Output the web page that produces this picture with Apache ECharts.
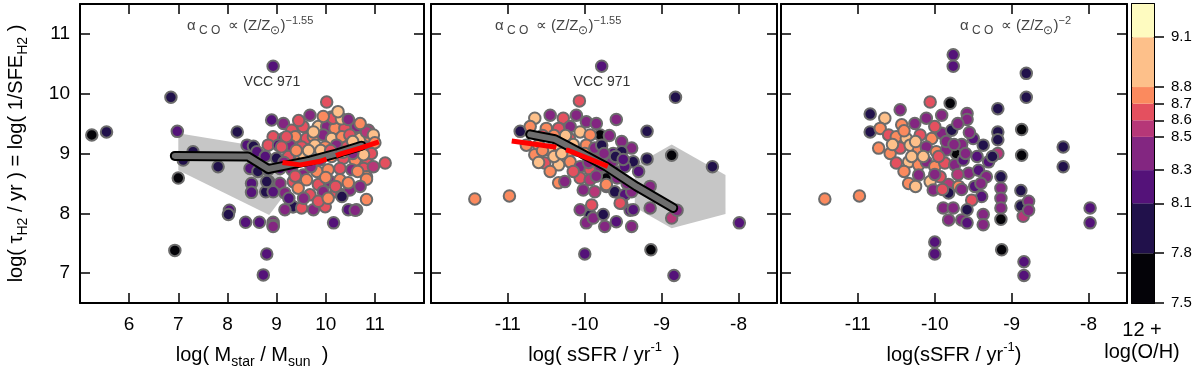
<!DOCTYPE html>
<html>
<head>
<meta charset="utf-8">
<script src="https://cdn.jsdelivr.net/npm/echarts@6/dist/echarts.min.js"></script>
<style>
  html, body { margin: 0; background: #fff; }
  #chart { width: 1200px; height: 374px; }
</style>
</head>
<body>
<div id="chart"></div>
<script>
// [log Mstar, log tau_H2 (alpha_CO ~ Z^-1.55), 12+log(O/H)]
const massPoints = [
  [5.24,9.31,7.6],[5.54,9.36,7.9],[6.85,9.94,7.9],[6.98,9.37,8.2],[7.0,8.59,7.6],[6.93,7.38,7.6],
  [7.1,8.89,8.0],[7.3,9.03,7.9],[7.81,8.78,7.9],[8.2,9.36,7.9],[8.04,8.05,8.2],[8.02,7.98,7.9],
  [8.37,7.85,8.2],[8.65,7.85,8.2],[8.93,7.85,8.35],[8.93,7.8,8.2],[8.8,7.32,8.2],[8.73,6.97,8.2],
  [8.93,10.46,8.2],[8.4,9.14,8.2],[8.53,9.12,7.9],[8.6,9.03,8.2],[8.46,8.75,8.2],[8.49,8.5,8.2],
  [8.49,8.35,8.2],[8.78,8.36,7.9],[8.84,8.53,8.2],[8.62,8.7,7.9],[9.33,8.11,7.9],
  [10.02,9.86,8.65],[9.68,9.64,8.4],[10.12,9.61,8.65],[10.46,9.56,8.3],[8.9,9.56,8.2],[9.14,9.5,8.4],
  [9.31,9.39,8.65],[9.54,9.45,8.65],[9.85,9.45,8.9],[10.02,9.45,8.4],[10.19,9.42,8.75],[10.39,9.42,8.65],
  [10.63,9.45,8.4],[10.87,9.39,8.55],[8.93,9.28,8.65],[9.14,9.25,8.4],[9.38,9.28,8.75],[9.61,9.25,8.65],
  [9.75,9.28,8.75],[9.95,9.31,8.45],[10.12,9.25,8.9],[10.33,9.28,8.75],[10.49,9.31,8.65],[10.7,9.25,8.9],
  [10.9,9.28,8.75],[8.83,9.14,8.65],[9.04,9.14,8.2],[9.27,9.14,8.4],[9.51,9.11,8.65],[9.78,9.14,8.85],
  [9.99,9.11,8.75],[10.22,9.14,8.45],[10.43,9.11,8.65],[10.66,9.09,8.75],[10.9,9.11,8.4],[8.77,8.95,8.2],
  [9.0,8.92,7.9],[9.24,8.95,8.65],[9.48,8.89,8.75],[9.68,8.92,8.65],[9.88,8.89,8.45],[10.12,8.95,8.75],
  [10.36,8.92,8.65],[10.6,8.89,8.75],[10.83,8.92,8.65],[11.21,8.84,8.65],[8.83,8.73,7.9],[9.07,8.75,8.2],
  [9.31,8.73,8.4],[9.54,8.64,8.45],[9.82,8.7,8.75],[10.05,8.73,8.75],[10.29,8.75,8.65],[10.53,8.73,8.4],
  [10.77,8.75,8.65],[10.97,8.78,8.55],[8.8,8.53,7.9],[9.07,8.5,8.35],[9.34,8.53,8.65],[9.61,8.56,8.75],
  [9.85,8.48,8.65],[10.09,8.53,8.4],[10.29,8.56,8.75],[10.46,8.5,8.65],[10.83,8.61,8.75],[8.93,8.36,8.2],
  [9.17,8.34,8.45],[9.44,8.42,8.75],[9.68,8.31,8.65],[9.95,8.36,8.4],[10.22,8.36,8.65],[10.33,8.31,8.2],
  [10.49,8.39,8.4],[10.83,8.23,8.75],[9.34,8.11,7.9],[9.17,8.06,8.4],[9.51,8.09,8.65],[9.75,8.06,8.4],
  [9.99,8.11,8.65],[10.46,8.06,8.2],[10.63,8.06,8.65],[8.93,7.78,8.35],[10.16,7.84,8.2],
  [10.6,8.05,8.4],[10.33,8.28,7.9],[10.15,9.59,8.65],[10.32,9.58,8.9],[10.46,9.57,8.4],[10.83,9.36,8.55],
  [10.97,9.31,8.9],[10.83,8.57,8.75],[10.46,8.51,8.75],[9.75,9.36,8.85],[9.2,9.28,8.65],[9.1,9.11,8.65],
  [10.93,9.0,8.65],[10.77,8.98,8.9],[11.0,9.18,8.75],[10.55,9.2,8.85],[9.55,8.98,8.9],[9.9,9.05,8.85],
  [9.45,9.55,8.65],[9.95,9.62,8.75],[10.25,9.7,8.9],[10.7,9.5,8.75],[9.4,9.05,8.75],[9.65,9.05,8.9],
  [10.1,9.05,8.65],[10.35,9.02,8.9],[10.55,9.0,8.45],[9.15,8.85,8.45],[9.38,8.62,8.65],[9.7,8.78,8.4],
  [10.0,8.6,8.75],[10.2,8.45,8.65],[10.65,8.7,8.75],[10.7,8.45,8.45],[9.85,8.2,8.65],[10.05,8.25,8.75],
  [9.55,8.25,8.4],[9.25,8.25,8.2]
];

// [log sSFR, log tau_H2 (alpha_CO ~ Z^-1.55), 12+log(O/H)]
const ssfrPoints = [
  [-9.78,10.46,8.2],[-8.82,9.94,7.9],[-10.84,9.37,7.9],[-9.59,9.57,8.3],[-9.19,9.37,7.9],[-9.19,8.91,7.9],
  [-8.87,8.97,7.6],[-8.34,8.78,7.9],[-7.99,7.84,8.2],[-11.43,8.24,8.75],[-10.98,8.29,8.75],[-10.0,7.32,8.2],
  [-9.14,7.39,7.6],[-8.84,6.96,8.2],[-8.87,7.92,8.55],[-8.8,8.05,8.3],[-9.15,8.09,8.3],[-9.15,8.45,8.4],
  [-9.8,9.31,7.6],[-9.72,8.59,7.6],[-10.07,9.88,8.65],[-9.39,7.78,8.3],[-9.59,7.86,8.2],[-9.74,7.78,8.3],
  [-9.93,7.97,7.9],[-9.98,7.84,8.3],[-9.41,8.05,8.2],[-9.52,8.17,8.45],[-10.34,8.51,8.75],[-10.26,8.53,8.45],
  [-10.65,9.59,8.9],[-10.45,9.64,8.4],[-10.28,9.59,8.65],[-10.11,9.64,8.3],[-9.98,9.53,8.4],[-9.85,9.5,8.3],
  [-10.71,9.45,8.75],[-10.5,9.42,8.75],[-10.34,9.42,8.65],[-10.19,9.45,8.4],[-10.06,9.36,8.85],[-9.93,9.31,8.75],
  [-10.76,9.14,8.75],[-10.6,9.14,8.75],[-10.47,9.06,8.85],[-10.34,9.14,8.9],[-10.23,8.98,8.75],[-10.11,9.06,8.4],
  [-9.98,9.14,8.75],[-9.87,9.09,8.4],[-9.78,9.14,7.9],[-10.65,8.98,8.75],[-10.52,8.84,8.65],[-10.34,8.81,8.9],
  [-10.19,8.86,8.75],[-10.06,8.78,8.45],[-9.93,8.73,8.65],[-9.8,8.78,8.45],[-10.06,8.59,8.65],[-9.93,8.56,8.55],
  [-10.02,8.39,8.45],[-9.87,8.36,8.55],[-9.72,8.45,8.3],[-10.06,8.06,8.3],[-9.91,8.14,8.65],[-9.89,7.92,8.3],
  [-9.52,9.2,8.3],[-9.39,9.09,8.3],[-9.63,9.0,8.2],[-9.52,9.03,7.9],[-9.37,8.86,7.9],[-9.74,8.84,8.55],
  [-9.61,8.7,8.2],[-9.48,8.78,8.2],[-9.72,8.48,8.75],[-9.58,8.59,8.45],[-9.61,8.36,7.9],[-9.48,8.31,8.2],
  [-9.39,8.36,8.3],[-9.54,8.17,8.65],[-9.37,8.06,8.2],[-9.76,7.98,7.9],
  [-10.2,9.25,8.65],[-10.0,9.0,8.75],[-9.85,8.9,8.55],[-9.68,9.3,8.3],[-9.65,8.85,8.4],[-10.4,8.95,8.9],
  [-10.55,9.3,8.65],[-10.4,9.3,8.75],[-10.25,9.3,8.9],[-10.6,8.85,8.85],[-10.45,8.7,8.75],[-10.15,8.7,8.65],
  [-9.95,8.85,8.4],[-10.15,9.15,8.9],[-10.3,9.0,8.85],[-9.75,9.0,8.3],[-9.85,8.62,8.45],[-9.6,8.95,7.9],
  [-9.45,8.5,8.3],[-9.5,8.9,8.2],[-9.3,8.7,8.2],[-10.55,9.05,8.75]
];

// [log sSFR, log tau_H2 (alpha_CO ~ Z^-2), 12+log(O/H)]
const ssfrPointsZ2 = [
  [-9.76,10.65,8.2],[-9.76,10.46,8.2],[-8.81,10.34,7.9],[-8.81,9.94,7.9],[-9.8,9.84,7.6],[-9.18,9.75,7.9],
  [-8.87,9.4,7.6],[-8.87,8.97,7.6],[-8.33,9.11,7.9],[-8.33,8.78,7.9],[-7.98,8.09,8.2],[-7.98,7.84,8.2],
  [-11.43,8.24,8.75],[-10.98,8.29,8.75],[-10.0,7.52,8.2],[-10.0,7.32,8.2],[-9.13,7.39,7.6],[-8.84,7.19,8.2],
  [-8.84,6.96,8.2],[-10.84,9.66,7.9],[-10.84,9.36,7.9],[-9.58,9.67,8.4],[-9.58,9.57,8.3],[-9.18,9.36,7.9],
  [-9.18,9.23,7.9],[-9.18,9.0,8.55],[-8.88,8.38,7.9],[-8.88,8.12,7.9],[-8.85,7.95,8.55],[-8.78,8.2,8.3],
  [-8.78,8.05,8.3],[-9.14,8.61,7.9],[-9.14,8.42,8.3],[-9.14,8.25,8.3],[-9.14,8.09,8.3],[-9.14,7.9,7.6],
  [-9.72,9.0,7.6],
  [-10.65,9.59,8.9],[-10.45,9.73,8.4],[-10.71,9.42,8.75],[-10.6,9.31,8.65],[-10.43,9.48,8.75],[-10.26,9.5,8.4],
  [-10.11,9.59,8.4],[-10.06,9.86,8.65],[-9.91,9.64,8.3],[-10.5,9.28,8.75],[-10.37,9.25,8.9],[-10.19,9.31,8.65],
  [-10.04,9.25,8.75],[-9.91,9.34,8.4],[-9.78,9.39,7.9],[-10.73,9.09,8.75],[-10.58,9.0,8.75],[-10.45,9.09,8.65],
  [-10.32,9.14,8.85],[-10.21,9.06,8.75],[-10.11,9.11,8.45],[-9.98,9.03,8.75],[-9.85,9.06,8.4],[-10.5,8.84,8.65],
  [-10.34,8.86,8.9],[-10.21,8.81,8.75],[-10.11,8.86,8.45],[-10.0,8.78,8.75],[-9.87,8.84,8.65],[-9.74,8.81,8.3],
  [-10.34,8.5,8.75],[-10.21,8.64,8.45],[-10.06,8.53,8.9],[-9.93,8.61,8.65],[-9.82,8.48,8.55],[-9.69,8.45,8.75],
  [-10.02,8.39,8.45],[-9.82,8.34,7.9],[-9.89,8.09,8.45],[-9.76,8.09,8.3],[-9.82,7.89,8.3],[-9.65,7.89,8.3],
  [-9.5,9.25,8.2],[-9.37,9.14,7.9],[-9.63,8.89,8.2],[-9.56,8.67,8.4],[-9.43,8.72,8.2],[-9.3,8.86,8.2],
  [-9.33,8.61,8.3],[-9.48,8.45,8.2],[-9.39,8.28,8.2],[-9.52,8.22,8.65],[-9.58,8.06,7.9],[-9.37,7.98,8.3],
  [-9.58,7.84,8.2],[-9.37,7.81,8.3],
  [-9.65,9.15,8.3],[-9.6,9.0,8.4],[-9.7,8.65,8.55],[-9.55,9.35,8.3],[-10.3,8.95,8.9],[-9.95,8.95,8.65],
  [-10.4,9.38,8.75],[-10.25,9.2,8.85],[-10.55,9.15,8.9],[-10.0,9.45,8.65],[-9.85,9.2,8.4],[-10.15,8.95,8.9],
  [-10.4,8.7,8.75],[-10.25,8.45,8.9],[-10.0,8.65,8.45],[-9.9,8.4,8.65],[-9.75,9.15,8.3],[-9.65,8.4,8.4],
  [-9.45,8.95,8.2],[-9.4,8.5,8.3],[-9.25,8.95,7.9],[-9.7,9.5,8.4]
];

// running medians (black/grey), fits (red), scatter envelopes (grey)
const massTrend = [[6.93,8.96],[8.42,8.95],[8.83,8.74],[9.68,8.88],[10.22,9.0],[10.73,9.13]];
const massFit = [[9.12,8.85],[9.48,8.81],[9.89,8.87],[10.29,8.99],[10.7,9.09],[11.1,9.2]];
const massBand = [[7.0,9.34],[8.4,9.15],[9.0,8.9],[9.2,8.35],[8.85,7.97],[7.0,8.72]];
const ssfrTrend = [[-10.71,9.32],[-10.39,9.24],[-10.24,9.14],[-9.72,8.78],[-9.33,8.45],[-8.85,8.09]];
const ssfrFit = [[-10.95,9.21],[-10.39,9.11],[-10.21,9.05],[-9.69,8.78]];
const ssfrBand = [[-9.35,8.8],[-8.87,9.15],[-8.17,8.64],[-8.17,7.99],[-8.87,7.75],[-9.35,8.1]];

const ohLevels = [7.5, 7.8, 8.1, 8.3, 8.5, 8.6, 8.7, 8.8, 9.1, 9.3];
const ohColors = ['#040308', '#21114b', '#541279', '#832681', '#b63778', '#e4505f', '#fb8a5e', '#fdc08a', '#fefbc0'];
const ohTicks = [7.5, 7.8, 8.1, 8.3, 8.5, 8.6, 8.7, 8.8, 9.1];
const tauTicks = [7, 8, 9, 10, 11];
const massTicks = [6, 7, 8, 9, 10, 11];
const ssfrTicks = [-11, -10, -9, -8];

const FONT = 'Liberation Sans, Arial, sans-serif';
const chart = echarts.init(document.getElementById('chart'));

const nameRich = {
  n: { fontSize: 20, fontFamily: FONT, color: '#000', lineHeight: 28, verticalAlign: 'middle' },
  s: { fontSize: 14, fontFamily: FONT, color: '#000', lineHeight: 28, verticalAlign: 'bottom' },
  u: { fontSize: 13, fontFamily: FONT, color: '#000', lineHeight: 28, verticalAlign: 'top' }
};
const noteRich = {
  n: { fontSize: 15, fontFamily: FONT, fill: '#444', lineHeight: 22, verticalAlign: 'middle' },
  s: { fontSize: 12, fontFamily: FONT, fill: '#444', lineHeight: 22, verticalAlign: 'bottom' },
  u: { fontSize: 11, fontFamily: FONT, fill: '#444', lineHeight: 22, verticalAlign: 'top' }
};

const grids = [
  { left: 80, top: 4, width: 344, height: 299 },
  { left: 431, top: 4, width: 346, height: 299 },
  { left: 781, top: 4, width: 346, height: 299 },
  { left: 1132, top: 4, width: 22, height: 299 }
];

const line = { onZero: false, lineStyle: { color: '#000', width: 2 } };
const xAxes = [];
const yAxes = [];
function addFrame (g, xmin, xmax, xticks, xname, yname) {
  const tick = (vals) => ({ inside: true, length: 10, customValues: vals, lineStyle: { color: '#000', width: 1.5 } });
  xAxes.push({
    gridIndex: g, type: 'value', min: xmin, max: xmax, position: 'bottom',
    axisLine: line, axisTick: tick(xticks), splitLine: { show: false },
    axisLabel: { customValues: xticks, fontSize: 19, fontFamily: FONT, color: '#000', margin: 12 },
    name: xname, nameLocation: 'middle', nameGap: 38, nameTextStyle: { rich: nameRich }
  });
  xAxes.push({
    gridIndex: g, type: 'value', min: xmin, max: xmax, position: 'top',
    axisLine: line, axisTick: tick(xticks), splitLine: { show: false }, axisLabel: { show: false }
  });
  yAxes.push({
    gridIndex: g, type: 'value', min: 6.5, max: 11.5, position: 'left',
    axisLine: line, axisTick: tick(tauTicks), splitLine: { show: false },
    axisLabel: { show: !!yname, customValues: tauTicks, fontSize: 19, fontFamily: FONT, color: '#000', margin: 10 },
    name: yname || '', nameLocation: 'middle', nameRotate: 90, nameGap: 50, nameTextStyle: { rich: nameRich }
  });
  yAxes.push({
    gridIndex: g, type: 'value', min: 6.5, max: 11.5, position: 'right',
    axisLine: line, axisTick: tick(tauTicks), splitLine: { show: false }, axisLabel: { show: false }
  });
}

addFrame(0, 5, 12, massTicks, '{n|log( M}{s|star}{n| / M}{s|sun}{n|  )}',
  '{n|log( τ}{s|H2}{n| / yr ) = log( 1/SFE}{s|H2}{n| )}');
addFrame(1, -12, -7.5, ssfrTicks, '{n|log( sSFR / yr}{u|-1}{n|  )}');
addFrame(2, -12, -7.5, ssfrTicks, '{n|log(sSFR / yr}{u|-1}{n|)}');

// colour bar frame
xAxes.push({ gridIndex: 3, type: 'value', min: 0, max: 1, position: 'bottom', axisLine: line,
  axisTick: { show: false }, axisLabel: { show: false }, splitLine: { show: false } });
xAxes.push({ gridIndex: 3, type: 'value', min: 0, max: 1, position: 'top', axisLine: line,
  axisTick: { show: false }, axisLabel: { show: false }, splitLine: { show: false } });
yAxes.push({ gridIndex: 3, type: 'value', min: 7.5, max: 9.3, position: 'left', axisLine: line,
  axisTick: { show: false }, axisLabel: { show: false }, splitLine: { show: false } });
yAxes.push({ gridIndex: 3, type: 'value', min: 7.5, max: 9.3, position: 'right', axisLine: line,
  axisTick: { show: true, inside: false, length: 10, customValues: ohTicks, lineStyle: { color: '#000', width: 1.5 } },
  axisLabel: { customValues: ohTicks, fontSize: 15, fontFamily: FONT, color: '#000', margin: 17,
    formatter: (v) => v.toFixed(1) },
  splitLine: { show: false } });

function bandSeries (g, band) {
  return {
    type: 'custom', xAxisIndex: 2 * g, yAxisIndex: 2 * g, data: band, z: 1, silent: true,
    renderItem (params, api) {
      if (params.dataIndex !== 0) return;
      return { type: 'polygon', shape: { points: band.map(p => api.coord(p)) }, style: { fill: '#c6c6c6' } };
    }
  };
}
function scatterSeries (g, pts) {
  return {
    type: 'scatter', xAxisIndex: 2 * g, yAxisIndex: 2 * g, data: pts, z: 2,
    symbolSize: 11.5, itemStyle: { borderColor: '#6b6b6b', borderWidth: 2, opacity: 1 }
  };
}
function trendSeries (g, pts) {
  const base = { type: 'line', xAxisIndex: 2 * g, yAxisIndex: 2 * g, data: pts, symbol: 'none', silent: true };
  return [
    { ...base, z: 3, lineStyle: { color: '#000', width: 10, cap: 'round', join: 'round' } },
    { ...base, z: 4, lineStyle: { color: '#6e6e6e', width: 6, cap: 'round', join: 'round' } }
  ];
}
function fitSeries (g, pts) {
  return {
    type: 'line', xAxisIndex: 2 * g, yAxisIndex: 2 * g, data: pts, symbol: 'none', z: 5, silent: true,
    lineStyle: { color: '#ff0000', width: 5, type: [45, 10], cap: 'butt', join: 'round' }
  };
}

const series = [
  bandSeries(0, massBand),
  bandSeries(1, ssfrBand),
  scatterSeries(0, massPoints),
  scatterSeries(1, ssfrPoints),
  scatterSeries(2, ssfrPointsZ2),
  ...trendSeries(0, massTrend),
  ...trendSeries(1, ssfrTrend),
  fitSeries(0, massFit),
  fitSeries(1, ssfrFit),
  {
    type: 'custom', xAxisIndex: 6, yAxisIndex: 6, z: 1, silent: true,
    data: ohColors.map((c, i) => [0, ohLevels[i], ohLevels[i + 1]]),
    renderItem (params, api) {
      const lo = api.coord([0, api.value(1)]);
      const hi = api.coord([1, api.value(2)]);
      return { type: 'rect', shape: { x: lo[0], y: hi[1], width: hi[0] - lo[0], height: lo[1] - hi[1] },
        style: { fill: ohColors[params.dataIndex] } };
    }
  }
];

const pieces = ohColors.map((c, i) => ({ gte: ohLevels[i], lt: ohLevels[i + 1], color: c }));

function note (x, y, text, rich) {
  return { type: 'text', x, y, silent: true,
    style: { text, rich, fontFamily: FONT, fontSize: 15, fill: '#444', verticalAlign: 'middle' } };
}

chart.setOption({
  animation: false,
  backgroundColor: '#fff',
  grid: grids,
  xAxis: xAxes,
  yAxis: yAxes,
  visualMap: { type: 'piecewise', show: false, dimension: 2, seriesIndex: [2, 3, 4], pieces },
  series,
  graphic: [
    note(187, 26, '{n|α}{s| C O }{n| ∝ (Z/Z}{s|⊙}{n|)}{u|−1.55}', noteRich),
    note(495, 26, '{n|α}{s| C O }{n| ∝ (Z/Z}{s|⊙}{n|)}{u|−1.55}', noteRich),
    note(960, 26, '{n|α}{s| C O }{n| ∝ (Z/Z}{s|⊙}{n|)}{u|−2}', noteRich),
    { type: 'text', x: 272, y: 82, style: { text: 'VCC 971', fontFamily: FONT, fontSize: 14, fill: '#333', align: 'center', verticalAlign: 'middle' } },
    { type: 'text', x: 602, y: 82, style: { text: 'VCC 971', fontFamily: FONT, fontSize: 14, fill: '#333', align: 'center', verticalAlign: 'middle' } },
    { type: 'text', x: 1142, y: 330, style: { text: '12 +', fontFamily: FONT, fontSize: 20, fill: '#000', align: 'center', verticalAlign: 'middle' } },
    { type: 'text', x: 1142, y: 352, style: { text: 'log(O/H)', fontFamily: FONT, fontSize: 20, fill: '#000', align: 'center', verticalAlign: 'middle' } }
  ]
});
</script>
</body>
</html>
